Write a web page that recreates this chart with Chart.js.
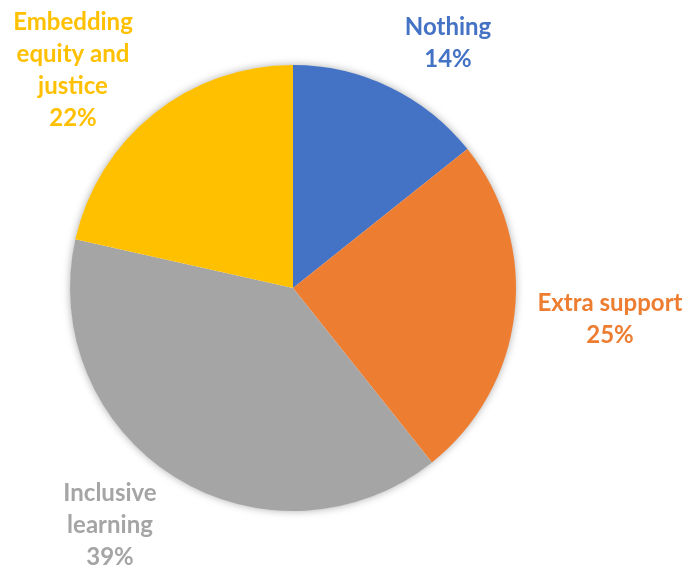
<!DOCTYPE html>
<html>
<head>
<meta charset="utf-8">
<script src="https://cdn.jsdelivr.net/npm/chart.js@4/dist/chart.umd.min.js"></script>
<style>
  html, body { margin: 0; padding: 0; background: #ffffff; }
  #wrap { width: 688px; height: 572px; }
</style>
</head>
<body>
<div id="wrap"><canvas id="c" width="688" height="572"></canvas></div>
<script>
const categories = ["Nothing", "Extra support", "Inclusive learning", "Embedding equity and justice"];
const labelLines = [["Nothing"], ["Extra support"], ["Inclusive", "learning"], ["Embedding", "equity and", "justice"]];
const values = [14.3, 25.0, 39.2, 21.5];
const percentLabels = ["14%", "25%", "39%", "22%"];
const colors = ["#4472C4", "#ED7D31", "#A5A5A5", "#FFC000"];

// label anchor offsets (relative to pie centre), layout only
const labelOffsets = [[155, -245], [317, 31], [-183, 237], [-220, -218]];

const shadowPlugin = {
  id: 'pieShadow',
  beforeDatasetsDraw(chart) {
    const arc = chart.getDatasetMeta(0).data[0];
    if (!arc) return;
    const ctx = chart.ctx;
    ctx.save();
    ctx.shadowColor = 'rgba(0,0,0,0.35)';
    ctx.shadowBlur = 8;
    ctx.fillStyle = '#ffffff';
    ctx.beginPath();
    ctx.arc(arc.x, arc.y, arc.outerRadius - 0.5, 0, Math.PI * 2);
    ctx.fill();
    ctx.restore();
  }
};

const labelPlugin = {
  id: 'outLabels',
  afterDatasetsDraw(chart) {
    const meta = chart.getDatasetMeta(0);
    const ctx = chart.ctx;
    ctx.save();
    ctx.font = 'bold 24px Lato, "Open Sans", sans-serif';
    ctx.textAlign = 'center';
    ctx.textBaseline = 'middle';
    const lh = 32;
    meta.data.forEach((arc, i) => {
      const lines = labelLines[i].concat([percentLabels[i]]);
      const cx = arc.x + labelOffsets[i][0];
      const cy = arc.y + labelOffsets[i][1];
      const y0 = cy - (lines.length - 1) * lh / 2;
      ctx.fillStyle = colors[i];
      lines.forEach((t, k) => ctx.fillText(t, cx, y0 + k * lh));
    });
    ctx.restore();
  }
};

new Chart(document.getElementById('c'), {
  type: 'pie',
  data: {
    labels: categories,
    datasets: [{
      data: values,
      backgroundColor: colors,
      borderWidth: 0
    }]
  },
  options: {
    responsive: false,
    animation: false,
    layout: { padding: { left: 70, right: 172, top: 65, bottom: 61 } },
    plugins: {
      legend: { display: false },
      tooltip: { enabled: false }
    }
  },
  plugins: [shadowPlugin, labelPlugin]
});
</script>
</body>
</html>
